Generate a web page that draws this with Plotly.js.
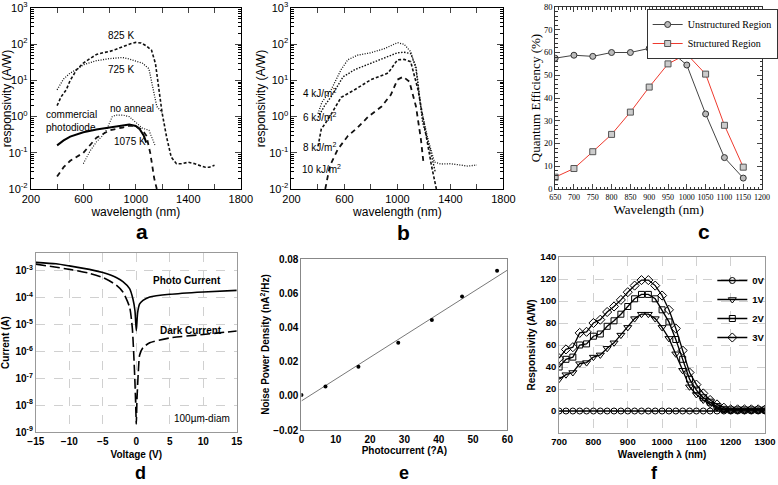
<!DOCTYPE html>
<html><head><meta charset="utf-8">
<script src="https://cdn.plot.ly/plotly-3.0.1.min.js"></script>
<style>html,body{margin:0;padding:0;background:#fff;overflow:hidden}#chart{width:778px;height:485px}</style>
</head><body><div id="chart"></div>
<script>
// ---------- Panel a ----------
const a825X = [400,430,470,500,550,600,650,700,750,800,850,900,950,1000,1040,1080,1120,1150,1175,1200,1235,1270,1310,1350,1400,1450,1500,1530,1560,1600];
const a825Y = [2.0,3.5,5.5,10,20,30,40,52,58,63,72,85,100,112,108,90,68,29,6.6,1.3,0.27,0.076,0.05,0.05,0.055,0.05,0.043,0.04,0.04,0.045];
const a725X = [400,450,500,550,600,700,800,900,950,1000,1050,1100,1125,1160,1200];
const a725Y = [5.5,11,16,20,27,35,40,43,39,34,30,21,7,1.9,1.3];
const aNoX = [600,650,700,740,780,820,850,900,950,1000,1050,1100,1150];
const aNoY = [0.05,0.11,0.2,0.28,0.45,1.0,1.1,1.1,1.0,0.7,0.48,0.42,0.15];
const aComX = [400,450,500,600,700,800,900,950,1000,1030,1060,1080];
const aComY = [0.16,0.22,0.28,0.37,0.44,0.5,0.55,0.6,0.55,0.45,0.3,0.19];
const a1075X = [400,450,500,600,700,800,900,950,1000,1050,1080,1110,1140,1160];
const a1075Y = [0.022,0.04,0.06,0.1,0.26,0.42,0.5,0.56,0.55,0.42,0.3,0.1,0.02,0.01];

// ---------- Panel b ----------
const b4X = [400,430,500,575,625,700,800,900,1000,1050,1100,1140,1175,1230,1280,1330,1400,1450,1530,1600];
const b4Y = [1.2,2.5,5.6,20,37,50,58,75,110,100,62,20,1.9,0.24,0.055,0.049,0.05,0.047,0.043,0.046];
const b6X = [400,450,500,590,680,830,900,1000,1050,1100,1140,1190,1245,1285];
const b6Y = [0.95,2,3.6,12.6,20,33,40,58,60,55,24,0.7,0.13,0.03];
const b8X = [400,425,475,575,680,800,930,1000,1050,1100,1155,1207,1257,1294];
const b8Y = [0.15,0.45,0.83,3.4,5.6,10.5,16,37,38,33,5.6,0.45,0.044,0.01];
const b10X = [455,490,550,625,700,780,880,950,1000,1043,1090,1140,1177,1195];
const b10Y = [0.01,0.044,0.125,0.29,0.5,1,1.9,4,10.5,12.6,9.3,1.9,0.24,0.06];

// ---------- Panel c ----------
const cX = [650,700,750,800,850,900,950,1000,1050,1100,1150];
const cUnstructured = [57.5,58.8,58.3,60,60,61.8,61.5,54.5,33,13.8,4.8];
const cStructured = [5.2,9,16.4,24,33.8,44.8,55,59.3,50.5,28,9.6];

// ---------- Panel d ----------
const dPhotoV = [-15,-12,-10,-7,-5,-3,-2,-1,-0.5,-0.2,0,0.2,0.5,1,2,5,10,15];
const dPhotoI = [2.1e-3,1.85e-3,1.55e-3,1.15e-3,8.7e-4,5.7e-4,4e-4,2.2e-4,9e-5,3.3e-5,6e-6,2.8e-5,5.9e-5,8e-5,1.07e-4,1.35e-4,1.65e-4,1.9e-4];
const dDarkV = [-15,-10,-7,-5,-3,-2,-1,-0.6,-0.4,-0.2,-0.1,0,0.1,0.3,0.5,1,2,5,10,15];
const dDarkI = [1.8e-3,1.15e-3,8.2e-4,5.7e-4,3e-4,1.65e-4,4.5e-5,7.8e-6,1e-6,7e-8,1.3e-8,2e-9,1.6e-8,1.7e-7,7.4e-7,1.4e-6,2.1e-6,3.2e-6,4.3e-6,5.8e-6];

// ---------- Panel e ----------
const ePhotocurrent = [0,7,16.6,28.2,38,46.8,57];
const eNoise = [0.0004,0.0055,0.017,0.031,0.0444,0.058,0.0732];
const eFitX = [0,60];
const eFitY = [-0.003,0.0735];

// ---------- Panel f ----------
const fWave = [700,720,740,760,780,800,820,840,860,880,900,920,940,960,980,1000,1020,1040,1060,1080,1100,1120,1140,1160,1180,1200,1220,1240,1260,1280,1300];
const f0V = [0,0,0,0,0,0,0,0,0,0,0,0,0,0,0,0,0,0,0,0,0,0,0,0,0,0,0,0,0,0,0];
const f1V = [29,33,35,43,44,49,51,57,62,69,76,84,88,88,84,76,66,52,37,22,15,10,6,3,1,0.8,0.8,0.8,0.8,0.8,0.8];
const f2V = [40,47,49,60,61,68,70,77,82,88,95,102,106,106,102,92,81,65,47,29,19,12,8,4,1.5,1,1,1,1,1,1];
const f3V = [48,56,58,71,72,80,83,90,95,101,108,114,119,119,114,105,92,75,55,35,24,16,10,6,3,1.5,1.5,1.5,1.5,1.5,1.5];

const fA = 'Liberation Sans, Arial, sans-serif';
const fS = 'Liberation Serif, Times New Roman, serif';
const W = 778, H = 485;
const px = v => v / W, py = v => 1 - v / H;

function logMinor(lo, hi) { const o = []; for (let k = lo; k < hi; k++) for (let m = 2; m <= 9; m++) o.push(m * Math.pow(10, k)); return o; }

const traces = [
  {x:a825X, y:a825Y, xaxis:'x', yaxis:'y', mode:'lines', line:{color:'#111', width:1.6, dash:'3px,2px'}, showlegend:false, name:'825 K'},
  {x:a725X, y:a725Y, xaxis:'x', yaxis:'y', mode:'lines', line:{color:'#111', width:1.3, dash:'1px,1.5px'}, showlegend:false, name:'725 K'},
  {x:aNoX, y:aNoY, xaxis:'x', yaxis:'y', mode:'lines', line:{color:'#111', width:1.1, dash:'1px,1.5px'}, showlegend:false, name:'no anneal'},
  {x:aComX, y:aComY, xaxis:'x', yaxis:'y', mode:'lines', line:{color:'#000', width:2}, showlegend:false, name:'commercial photodiode'},
  {x:a1075X, y:a1075Y, xaxis:'x', yaxis:'y', mode:'lines', line:{color:'#111', width:1.8, dash:'5px,4px'}, showlegend:false, name:'1075 K'},

  {x:b4X, y:b4Y, xaxis:'x2', yaxis:'y2', mode:'lines', line:{color:'#111', width:1.3, dash:'1px,1.5px'}, showlegend:false, name:'4 kJ/m2'},
  {x:b6X, y:b6Y, xaxis:'x2', yaxis:'y2', mode:'lines', line:{color:'#111', width:1.4, dash:'1.5px,1.5px'}, showlegend:false, name:'6 kJ/m2'},
  {x:b8X, y:b8Y, xaxis:'x2', yaxis:'y2', mode:'lines', line:{color:'#111', width:1.6, dash:'3px,2px'}, showlegend:false, name:'8 kJ/m2'},
  {x:b10X, y:b10Y, xaxis:'x2', yaxis:'y2', mode:'lines', line:{color:'#111', width:1.8, dash:'5px,4px'}, showlegend:false, name:'10 kJ/m2'},

  {x:cX, y:cUnstructured, xaxis:'x3', yaxis:'y3', mode:'lines+markers', name:'Unstructured Region', legend:'legend',
   line:{color:'#444', width:1}, marker:{symbol:'circle', size:6, color:'#bbb', line:{color:'#333', width:1}}},
  {x:cX, y:cStructured, xaxis:'x3', yaxis:'y3', mode:'lines+markers', name:'Structured Region', legend:'legend',
   line:{color:'#ee3a2e', width:1}, marker:{symbol:'square', size:6, color:'#ccc', line:{color:'#555', width:1}}},

  {x:dPhotoV, y:dPhotoI, xaxis:'x4', yaxis:'y4', mode:'lines', line:{color:'#000', width:1.6, shape:'spline', smoothing:0.6}, showlegend:false, name:'Photo Current'},
  {x:dDarkV, y:dDarkI, xaxis:'x4', yaxis:'y4', mode:'lines', line:{color:'#000', width:1.6, dash:'10px,4px', shape:'spline', smoothing:0.6}, showlegend:false, name:'Dark Current'},

  {x:eFitX, y:eFitY, xaxis:'x5', yaxis:'y5', mode:'lines', line:{color:'#555', width:0.8}, showlegend:false, name:'fit'},
  {x:ePhotocurrent, y:eNoise, xaxis:'x5', yaxis:'y5', mode:'markers', marker:{color:'#000', size:4}, showlegend:false, name:'data'},

  {x:fWave, y:f0V, xaxis:'x6', yaxis:'y6', mode:'lines+markers', name:'0V', legend:'legend2', line:{color:'#000', width:1.3}, marker:{symbol:'circle-open', size:6, color:'#000', line:{width:1}}},
  {x:fWave, y:f1V, xaxis:'x6', yaxis:'y6', mode:'lines+markers', name:'1V', legend:'legend2', line:{color:'#000', width:1.3}, marker:{symbol:'triangle-down-open', size:7, color:'#000', line:{width:1}}},
  {x:fWave, y:f2V, xaxis:'x6', yaxis:'y6', mode:'lines+markers', name:'2V', legend:'legend2', line:{color:'#000', width:1.3}, marker:{symbol:'square-open', size:6, color:'#000', line:{width:1}}},
  {x:fWave, y:f3V, xaxis:'x6', yaxis:'y6', mode:'lines+markers', name:'3V', legend:'legend2', line:{color:'#000', width:1.3}, marker:{symbol:'diamond-open', size:7, color:'#000', line:{width:1}}}
];

const abTickVals = [200,400,600,800,1000,1200,1400,1600,1800];
const abTickText = ['200','','600','','1000','','1400','','1800'];
const logVals = [0.01,0.1,1,10,100,1000];
const logText = ['10<sup>-2</sup>','10<sup>-1</sup>','10<sup>0</sup>','10<sup>1</sup>','10<sup>2</sup>','10<sup>3</sup>'];

function abX(dom) {
  return {domain:dom, range:[200,1800], tickmode:'array', tickvals:abTickVals, ticktext:abTickText, ticks:'inside', ticklen:5,
    showline:true, linecolor:'#000', linewidth:1, mirror:'ticks', showgrid:false, zeroline:false, tickangle:0,
    tickfont:{family:fA, size:11, color:'#000'}, title:{text:'wavelength (nm)', font:{family:fA, size:12, color:'#000'}, standoff:1}};
}
function abY(dom) {
  return {domain:dom, type:'log', range:[-2,3], tickmode:'array', tickvals:logVals, ticktext:logText, ticks:'inside', ticklen:6,
    minor:{tickmode:'array', tickvals:logMinor(-2,3), ticks:'inside', ticklen:3, tickcolor:'#000'},
    showline:true, linecolor:'#000', linewidth:1, mirror:'ticks', showgrid:false, zeroline:false,
    tickfont:{family:fA, size:11, color:'#000'}, title:{text:'responsivity (A/W)', font:{family:fA, size:12, color:'#000'}, standoff:1}};
}

const boldFont = (s) => ({family:fA, size:s, color:'#000', weight:'bold'});
const letter = (x, y, t, s) => ({xref:'paper', yref:'paper', x:px(x), y:py(y), xanchor:'center', yanchor:'middle', text:t, showarrow:false, font:boldFont(s)});

const layout = {
  width:W, height:H, margin:{l:0,r:0,t:0,b:0}, paper_bgcolor:'#fff', plot_bgcolor:'#fff', showlegend:true,
  xaxis: Object.assign(abX([px(31), px(242)]), {anchor:'y'}),
  yaxis: Object.assign(abY([py(189), py(8)]), {anchor:'x'}),
  xaxis2: Object.assign(abX([px(293), px(506)]), {anchor:'y2'}),
  yaxis2: Object.assign(abY([py(189), py(8)]), {anchor:'x2'}),
  xaxis3: {domain:[px(558), px(766)], anchor:'y3', range:[650,1200], dtick:50, ticks:'inside', ticklen:5, tickangle:0,
    minor:{dtick:10, ticks:'inside', ticklen:2.5, tickcolor:'#333'},
    showline:true, linecolor:'#333', mirror:'ticks', showgrid:false, zeroline:false,
    tickfont:{family:fS, size:8, color:'#000'}, title:{text:'Wavelength (nm)', font:{family:fS, size:13, color:'#000'}, standoff:4}},
  yaxis3: {domain:[py(189), py(7)], anchor:'x3', range:[0,80], dtick:10, ticks:'inside', ticklen:5,
    minor:{dtick:2, ticks:'inside', ticklen:2.5, tickcolor:'#333'},
    showline:true, linecolor:'#333', mirror:'ticks', showgrid:false, zeroline:false,
    tickfont:{family:fS, size:8.5, color:'#000'}, title:{text:'Quantum Efficiency (%)', font:{family:fS, size:13, color:'#000'}, standoff:0}},
  xaxis4: {domain:[px(36), px(238)], anchor:'y4', range:[-15,15], dtick:5, ticks:'', showline:true, linecolor:'#999', mirror:true, tickangle:0,
    showgrid:true, gridcolor:'#d0d0d0', griddash:'dash', zeroline:false,
    tickfont:boldFont(10), title:{text:'Voltage (V)', font:boldFont(10), standoff:4}},
  yaxis4: {domain:[py(432), py(253)], anchor:'x4', type:'log', range:[-9,-2.33], tickmode:'array',
    tickvals:[1e-9,1e-8,1e-7,1e-6,1e-5,1e-4,1e-3],
    ticktext:['10<sup>-9</sup>','10<sup>-8</sup>','10<sup>-7</sup>','10<sup>-6</sup>','10<sup>-5</sup>','10<sup>-4</sup>','10<sup>-3</sup>'],
    ticks:'', showline:true, linecolor:'#999', mirror:true, showgrid:true, gridcolor:'#d0d0d0', griddash:'dash', zeroline:false,
    tickfont:boldFont(10), title:{text:'Current (A)', font:boldFont(10), standoff:3}},
  xaxis5: {domain:[px(303), px(510)], anchor:'y5', range:[0,60], dtick:10, ticks:'', showline:true, linecolor:'#888', mirror:true, tickangle:0,
    showgrid:false, zeroline:false, tickfont:boldFont(10), title:{text:'Photocurrent (?A)', font:boldFont(10), standoff:1}},
  yaxis5: {domain:[py(430), py(259)], anchor:'x5', range:[-0.02,0.08], dtick:0.02, tickformat:'.2f', ticks:'', showline:true, linecolor:'#888', mirror:true,
    showgrid:false, zeroline:false, tickfont:boldFont(10), title:{text:'Noise Power Density (nA<sup>2</sup>/Hz)', font:boldFont(10), standoff:1}},
  xaxis6: {domain:[px(562), px(769)], anchor:'y6', range:[700,1300], dtick:100, ticks:'', showline:true, linecolor:'#999', mirror:true, tickangle:0,
    showgrid:true, gridcolor:'#d0d0d0', griddash:'dash', zeroline:false,
    tickfont:boldFont(9.5), title:{text:'Wavelength λ (nm)', font:boldFont(10), standoff:4}},
  yaxis6: {domain:[py(433), py(257)], anchor:'x6', range:[-20,140], tickmode:'array', tickvals:[0,20,40,60,80,100,120,140],
    ticks:'', showline:true, linecolor:'#999', mirror:true, showgrid:true, gridcolor:'#d0d0d0', griddash:'dash', zeroline:false,
    tickfont:boldFont(9.5), title:{text:'Responsivity (A/W)', font:boldFont(10), standoff:2}},
  legend: {x:px(650), y:py(9), xanchor:'left', yanchor:'top', bgcolor:'#fff', bordercolor:'#333', borderwidth:1,
    font:{family:fS, size:10, color:'#000'}, tracegroupgap:0, itemwidth:30},
  legend2: {x:px(716), y:py(266), xanchor:'left', yanchor:'top', bgcolor:'rgba(0,0,0,0)', borderwidth:0,
    font:boldFont(9.5), tracegroupgap:0, itemwidth:30},
  annotations: [
    {xref:'x', yref:'y', x:887, y:2.25, text:'825 K', showarrow:false, font:{family:fA, size:10, color:'#000'}},
    {xref:'x', yref:'y', x:887, y:1.29, text:'725 K', showarrow:false, font:{family:fA, size:10, color:'#000'}},
    {xref:'x', yref:'y', x:970, y:0.22, text:'no anneal', showarrow:false, font:{family:fA, size:10, color:'#000'}},
    {xref:'x', yref:'y', x:955, y:-0.7, text:'1075 K', showarrow:false, font:{family:fA, size:10, color:'#000'}},
    {xref:'x', yref:'y', x:300, y:-0.12, text:'commercial<br>photodiode', align:'left', xanchor:'left', showarrow:false, font:{family:fA, size:10, color:'#000'}},
    {xref:'x2', yref:'y2', x:272, y:0.66, text:'4 kJ/m<sup>2</sup>', xanchor:'left', showarrow:false, font:{family:fA, size:10, color:'#000'}},
    {xref:'x2', yref:'y2', x:272, y:0.0, text:'6 kJ/m<sup>2</sup>', xanchor:'left', showarrow:false, font:{family:fA, size:10, color:'#000'}},
    {xref:'x2', yref:'y2', x:272, y:-0.85, text:'8 kJ/m<sup>2</sup>', xanchor:'left', showarrow:false, font:{family:fA, size:10, color:'#000'}},
    {xref:'x2', yref:'y2', x:265, y:-1.45, text:'10 kJ/m<sup>2</sup>', xanchor:'left', showarrow:false, font:{family:fA, size:10, color:'#000'}},
    {xref:'x4', yref:'y4', x:7.6, y:-3.37, text:'Photo Current', showarrow:false, font:boldFont(10)},
    {xref:'x4', yref:'y4', x:8.1, y:-5.22, text:'Dark Current', showarrow:false, font:boldFont(10)},
    {xref:'x4', yref:'y4', x:9.8, y:-8.5, text:'100µm-diam', showarrow:false, font:{family:fA, size:10, color:'#000'}},
    letter(143, 231, 'a', 21), letter(406, 232, 'b', 21), letter(708, 231, 'c', 21),
    letter(141, 473, 'd', 18), letter(406, 473, 'e', 18), letter(658, 473, 'f', 18)
  ]
};

Plotly.newPlot('chart', traces, layout, {staticPlot:true, displayModeBar:false});
</script></body></html>
